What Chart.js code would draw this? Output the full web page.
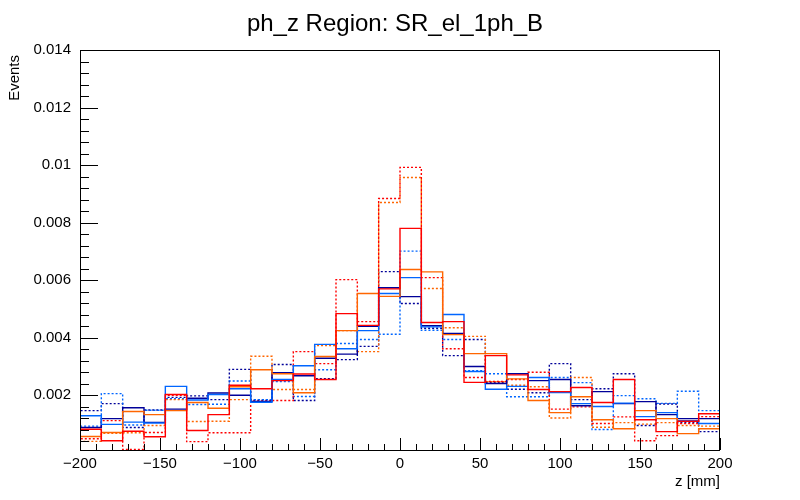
<!DOCTYPE html>
<html>
<head>
<meta charset="utf-8">
<title>ph_z Region: SR_el_1ph_B</title>
<script src="https://cdn.jsdelivr.net/npm/chart.js@4.4.1/dist/chart.umd.min.js"></script>
<style>
  html, body { margin: 0; padding: 0; background: #fff; }
  #wrap { width: 800px; height: 500px; }
</style>
</head>
<body>
<div id="wrap"><canvas id="phz" width="800" height="500"></canvas></div>
<script>
"use strict"

// histogram binning: 30 bins from -200 to 200 mm
const zLow = -200;
const zHigh = 200;
const nBins = 30;

// bin contents, one array per sample
const navySolid = [0.00088, 0.00119, 0.00157, 0.00106, 0.00152, 0.00190, 0.00208, 0.00200, 0.00179, 0.00279,
                   0.00268, 0.00329, 0.00343, 0.00440, 0.00574, 0.00543, 0.00442, 0.00415, 0.00300, 0.00241,
                   0.00275, 0.00251, 0.00255, 0.00164, 0.00213, 0.00171, 0.00178, 0.00133, 0.00119, 0.00119];
const azureSolid = [0.00129, 0.00099, 0.00107, 0.00104, 0.00231, 0.00184, 0.00203, 0.00223, 0.00176, 0.00255,
                    0.00303, 0.00377, 0.00362, 0.00425, 0.00554, 0.00609, 0.00438, 0.00481, 0.00283, 0.00221,
                    0.00231, 0.00262, 0.00210, 0.00171, 0.00161, 0.00173, 0.00126, 0.00140, 0.00112, 0.00102];
const orangeSolid = [0.00057, 0.00071, 0.00144, 0.00133, 0.00147, 0.00175, 0.00155, 0.00230, 0.00289, 0.00275,
                     0.00209, 0.00335, 0.00425, 0.00554, 0.00544, 0.00637, 0.00629, 0.00411, 0.00345, 0.00345,
                     0.00257, 0.00182, 0.00140, 0.00195, 0.00115, 0.00084, 0.00147, 0.00119, 0.00067, 0.00084];
const redSolid = [0.00082, 0.00042, 0.00075, 0.00056, 0.00203, 0.00078, 0.00133, 0.00235, 0.00223, 0.00251,
                  0.00274, 0.00255, 0.00484, 0.00443, 0.00570, 0.00780, 0.00453, 0.00456, 0.00245, 0.00338,
                  0.00271, 0.00220, 0.00213, 0.00227, 0.00175, 0.00255, 0.00115, 0.00074, 0.00110, 0.00136];
const navyDotted = [0.00147, 0.00171, 0.00088, 0.00149, 0.00193, 0.00198, 0.00185, 0.00290, 0.00183, 0.00307,
                    0.00182, 0.00258, 0.00324, 0.00370, 0.00630, 0.00519, 0.00433, 0.00338, 0.00394, 0.00245,
                    0.00221, 0.00209, 0.00310, 0.00185, 0.00223, 0.00275, 0.00095, 0.00170, 0.00105, 0.00074];
const azureDotted = [0.00093, 0.00206, 0.00097, 0.00148, 0.00188, 0.00168, 0.00169, 0.00250, 0.00185, 0.00248,
                     0.00196, 0.00289, 0.00380, 0.00394, 0.00412, 0.00701, 0.00426, 0.00394, 0.00286, 0.00275,
                     0.00195, 0.00195, 0.00262, 0.00244, 0.00081, 0.00199, 0.00188, 0.00172, 0.00214, 0.00147];
const orangeDotted = [0.00040, 0.00068, 0.00070, 0.00095, 0.00185, 0.00109, 0.00110, 0.00185, 0.00336, 0.00220,
                      0.00220, 0.00373, 0.00425, 0.00352, 0.00870, 0.00957, 0.00571, 0.00435, 0.00405, 0.00247,
                      0.00235, 0.00230, 0.00121, 0.00262, 0.00089, 0.00105, 0.00100, 0.00105, 0.00095, 0.00093];
const redDotted = [0.00049, 0.00112, 0.00012, 0.00071, 0.00200, 0.00039, 0.00070, 0.00070, 0.00180, 0.00182,
                   0.00352, 0.00310, 0.00602, 0.00456, 0.00884, 0.00992, 0.00609, 0.00362, 0.00262, 0.00248,
                   0.00255, 0.00280, 0.00152, 0.00160, 0.00102, 0.00125, 0.00042, 0.00060, 0.00102, 0.00126];

// axis ranges and tick labels
const yMin = 0.0001;
const yMax = 0.014;
const yTicks = [0.002, 0.004, 0.006, 0.008, 0.01, 0.012, 0.014];
const yTickLabels = ["0.002", "0.004", "0.006", "0.008", "0.01", "0.012", "0.014"];
const xTicks = [-200, -150, -100, -50, 0, 50, 100, 150, 200];
const xTickLabels = ["\u2212200", "\u2212150", "\u2212100", "\u221250", "0", "50", "100", "150", "200"];

const FONT = "'Liberation Sans', Arial, Helvetica, sans-serif";

const binWidth = (zHigh - zLow) / nBins;

// ROOT style outline: up from the floor, across each bin, back down at the end
function histPoints(values) {
    const pts = [{ x: zLow, y: yMin }];
    values.forEach((v, i) => pts.push({ x: zLow + i * binWidth, y: v }));
    pts.push({ x: zHigh, y: values[values.length - 1] });
    pts.push({ x: zHigh, y: yMin });
    return pts;
}

function histSet(values, color, dotted) {
    return {
        data: histPoints(values),
        borderColor: color,
        borderWidth: 1.4,
        borderDash: dotted ? [2, 2] : [],
        stepped: 'before',   // chart.js 'before' = horizontal first, then the jump
        pointRadius: 0,
        fill: false
    };
}

// frame, inward ticks and the text round the pad
const rootFrame = {
    id: 'rootFrame',
    afterDraw(chart) {
        const ctx = chart.ctx;
        const a = chart.chartArea;
        const xs = chart.scales.x;
        const ys = chart.scales.y;
        ctx.save();
        ctx.strokeStyle = '#000';
        ctx.lineWidth = 1;
        ctx.strokeRect(a.left + 0.5, a.top + 0.5, a.right - a.left - 1, a.bottom - a.top);

        ctx.beginPath();
        for (let z = zLow; z <= zHigh; z += 10) {
            const px = Math.round(xs.getPixelForValue(z)) + 0.5;
            const len = (z % 50 === 0) ? 12 : 6;
            ctx.moveTo(px, a.bottom);
            ctx.lineTo(px, a.bottom - len);
        }
        for (let k = 1; k <= 35; k++) {
            const v = k * 0.0004;
            const py = Math.round(ys.getPixelForValue(v)) + 0.5;
            const len = (k % 5 === 0) ? 18 : 9;
            ctx.moveTo(a.left, py);
            ctx.lineTo(a.left + len, py);
        }
        ctx.stroke();

        ctx.fillStyle = '#000';
        ctx.font = '24px ' + FONT;
        ctx.textAlign = 'center';
        ctx.textBaseline = 'alphabetic';
        ctx.fillText('ph_z Region: SR_el_1ph_B', 395, 31);

        ctx.font = '15px ' + FONT;
        ctx.textAlign = 'right';
        ctx.fillText('z [mm]', a.right, 486);

        ctx.translate(19, a.top);
        ctx.rotate(-Math.PI / 2);
        ctx.textAlign = 'right';
        ctx.fillText('Events', -5, 0);
        ctx.restore();
    }
};

new Chart(document.getElementById('phz'), {
    type: 'line',
    data: {
        datasets: [
            histSet(redSolid, '#ff0000', false),
            histSet(orangeSolid, '#ff6600', false),
            histSet(azureSolid, '#0066ff', false),
            histSet(navySolid, '#000099', false),
            histSet(redDotted, '#ff0000', true),
            histSet(orangeDotted, '#ff6600', true),
            histSet(azureDotted, '#0066ff', true),
            histSet(navyDotted, '#000099', true)
        ]
    },
    options: {
        responsive: false,
        animation: false,
        devicePixelRatio: 1,
        layout: { padding: { top: 50, right: 80, left: 0, bottom: 0 } },
        plugins: {
            legend: { display: false },
            title: { display: false },
            tooltip: { enabled: false }
        },
        scales: {
            x: {
                type: 'linear',
                min: zLow,
                max: zHigh,
                grid: { display: false, drawTicks: false },
                border: { display: false },
                afterFit(scale) { scale.height = 50; },
                afterBuildTicks(scale) { scale.ticks = xTicks.map(v => ({ value: v })); },
                ticks: {
                    autoSkip: false,
                    maxRotation: 0,
                    padding: 5,
                    color: '#000',
                    font: { family: FONT, size: 15 },
                    callback: (v) => xTickLabels[xTicks.indexOf(v)]
                }
            },
            y: {
                type: 'linear',
                min: yMin,
                max: yMax,
                grid: { display: false, drawTicks: false },
                border: { display: false },
                afterFit(scale) { scale.width = 80; },
                afterBuildTicks(scale) { scale.ticks = yTicks.map(v => ({ value: v })); },
                ticks: {
                    padding: 9,
                    color: '#000',
                    font: { family: FONT, size: 15 },
                    callback: (v) => yTickLabels[yTicks.indexOf(v)]
                }
            }
        }
    },
    plugins: [rootFrame]
});
</script>
</body>
</html>
